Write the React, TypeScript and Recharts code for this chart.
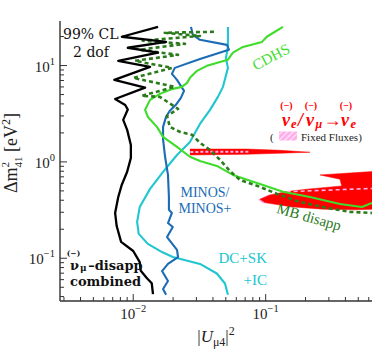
import React from 'react';
import { ScatterChart, Scatter, XAxis, YAxis } from 'recharts';

type Pt = [number, number];

// [ |U_mu4|^2 , dm41^2 (eV^2) ]
const combined: Pt[] = [
  [0.0154, 25.2], [0.0082, 19.9], [0.0177, 17.6], [0.0091, 15.3], [0.0154, 13.6],
  [0.0077, 11.2], [0.0134, 9.7], [0.0072, 7.1], [0.0123, 5.9], [0.0073, 4.5],
  [0.0087, 3.9], [0.0091, 3.5], [0.0084, 2.73], [0.009, 2.15], [0.0096, 1.5],
  [0.0096, 1.1], [0.009, 0.79], [0.0082, 0.58], [0.0077, 0.43], [0.0073, 0.295],
  [0.0075, 0.216], [0.0081, 0.148], [0.01, 0.119], [0.0112, 0.091], [0.0114, 0.074],
  [0.0127, 0.062], [0.0138, 0.055], [0.0141, 0.0425],
];

const minos: Pt[] = [
  [0.0273, 25.2], [0.0282, 20.8], [0.0319, 18.5], [0.051, 16.4], [0.0528, 14.6],
  [0.0319, 11.7], [0.0206, 9.46], [0.0196, 8.2], [0.0214, 7.1], [0.0242, 5.46],
  [0.0229, 4.62], [0.021, 3.91], [0.0189, 3.39], [0.0177, 2.93], [0.0168, 2.31],
  [0.0168, 1.71], [0.0174, 1.13], [0.0183, 0.733], [0.0186, 0.433], [0.0186, 0.318],
  [0.0196, 0.295], [0.0183, 0.232], [0.0199, 0.211], [0.018, 0.166], [0.0214, 0.122],
  [0.0218, 0.103], [0.0183, 0.0873], [0.0165, 0.0736], [0.0183, 0.058], [0.0168, 0.0479],
  [0.0177, 0.0417],
];

const dcskic: Pt[] = [
  [0.0519, 25.2], [0.0519, 15.6], [0.0501, 12.0], [0.0519, 9.46], [0.0476, 6.01],
  [0.0436, 4.73], [0.038, 3.47], [0.0319, 2.48], [0.0268, 1.61], [0.0214, 1.18],
  [0.0168, 0.787], [0.0134, 0.525], [0.0112, 0.341], [0.0107, 0.238], [0.011, 0.179],
  [0.0129, 0.141], [0.0165, 0.116], [0.0199, 0.103], [0.0319, 0.0873], [0.0428, 0.0695],
  [0.0493, 0.0547], [0.0519, 0.0417],
];

const cdhs: Pt[] = [
  [0.135, 25.2], [0.102, 19.9], [0.0938, 17.6], [0.0674, 15.6], [0.0566, 13.6],
  [0.0519, 11.5], [0.036, 9.93], [0.0303, 8.81], [0.0268, 7.45], [0.0255, 6.61],
  [0.0233, 6.01], [0.0199, 5.73], [0.0159, 5.08], [0.0134, 4.4], [0.0123, 3.47],
  [0.0129, 2.93], [0.0151, 2.31], [0.0168, 1.82], [0.0214, 1.43], [0.0268, 1.13],
  [0.0319, 1.02], [0.0428, 0.909], [0.0566, 0.733], [0.0906, 0.591], [0.135, 0.489],
  [0.216, 0.433], [0.364, 0.366], [0.533, 0.341], [0.635, 0.375],
];

const mbDisapp: Pt[] = [
  [0.0407, 22.4], [0.0173, 21.9], [0.0319, 20.3], [0.0118, 18.1], [0.0246, 16.8],
  [0.0112, 14.6], [0.0218, 12.9], [0.0103, 11.2], [0.0196, 9.46], [0.01, 7.45],
  [0.0206, 6.01], [0.0116, 4.85], [0.0159, 4.73], [0.0218, 3.55], [0.018, 3.0],
  [0.0189, 2.31], [0.0225, 2.05], [0.0278, 1.91], [0.0319, 1.58], [0.038, 1.33],
  [0.0452, 1.05], [0.0537, 0.805], [0.064, 0.65], [0.0906, 0.55], [0.122, 0.465],
  [0.18, 0.385], [0.29, 0.333], [0.433, 0.303], [0.635, 0.295],
];

// nu_e / nu_mu -> nu_e appearance regions
const appSpike: Pt[] = [
  [0.0268, 1.36], [0.072, 1.36], [0.128, 1.32], [0.216, 1.26],
  [0.128, 1.23], [0.072, 1.2], [0.0268, 1.18],
];
const appMain: Pt[] = [
  [0.635, 0.793], [0.257, 0.733], [0.364, 0.661], [0.375, 0.563], [0.204, 0.521],
  [0.144, 0.492], [0.108, 0.454], [0.0906, 0.41], [0.0988, 0.378], [0.153, 0.343],
  [0.272, 0.323], [0.486, 0.318], [0.635, 0.323],
];
// fixed fluxes
const fixedSpike: Pt[] = [[0.027, 1.27], [0.075, 1.275]];
const fixedMain: Pt[] = [[0.144, 0.49], [0.3, 0.51], [0.635, 0.53]];
const fixedTip: Pt[] = [
  [0.0875, 0.405], [0.105, 0.458], [0.13, 0.445], [0.115, 0.37], [0.095, 0.372],
];

const xTicks = [
  0.003, 0.004, 0.005, 0.006, 0.007, 0.008, 0.009,
  0.01, 0.02, 0.03, 0.04, 0.05, 0.06, 0.07, 0.08, 0.09,
  0.1, 0.2, 0.3, 0.4, 0.5, 0.6,
];
const yTicks = [
  0.04, 0.05, 0.06, 0.07, 0.08, 0.09,
  0.1, 0.2, 0.3, 0.4, 0.5, 0.6, 0.7, 0.8, 0.9,
  1, 2, 3, 4, 5, 6, 7, 8, 9, 10, 20,
];

const X_DOMAIN = [0.0028, 0.635];
const Y_DOMAIN = [0.036, 29];

const SERIF = '"Liberation Serif", "Times New Roman", serif';
const DJV = '"DejaVu Serif", serif';
const FRAME = '#333';
const C = {
  black: '#000000',
  blue: '#1b6cb5',
  cyan: '#20c6d0',
  green: '#3fdc2c',
  dark: '#2b7a1c',
  red: '#ff0000',
  pink: '#ffb0ea',
};

const toPts = (a: Pt[]) => a.map(([x, y]) => ({ x, y }));
const noShape = () => <g />;

const isMajor = (v: number) => Math.abs(Math.log10(v) - Math.round(Math.log10(v))) < 1e-6;
const expStr = (v: number) => {
  const e = Math.round(Math.log10(v));
  return e < 0 ? '\u2212' + Math.abs(e) : String(e);
};

const BottomTick = (props: any) => {
  const { x, y, payload } = props;
  const major = isMajor(payload.value);
  return (
    <g>
      <line x1={x} x2={x} y1={y} y2={y - (major ? 7 : 4)} stroke={FRAME} strokeWidth={1} />
      {major && (
        <text x={x} y={y + 18} textAnchor="middle" fontFamily={SERIF} fontSize={15} fill="#222">
          10<tspan dy={-7} fontSize={10.5}>{expStr(payload.value)}</tspan>
        </text>
      )}
    </g>
  );
};

const TopTick = (props: any) => {
  const { x, y, payload } = props;
  const major = isMajor(payload.value);
  return <line x1={x} x2={x} y1={y} y2={y + (major ? 7 : 4)} stroke={FRAME} strokeWidth={1} />;
};

const LeftTick = (props: any) => {
  const { x, y, payload } = props;
  const major = isMajor(payload.value);
  const e = expStr(payload.value);
  return (
    <g>
      <line x1={x} x2={x + (major ? 7 : 4)} y1={y} y2={y} stroke={FRAME} strokeWidth={1} />
      {major && (
        <text x={x - 5} y={y + 6} textAnchor="end" fontFamily={SERIF} fontSize={15} fill="#222">
          10<tspan dy={-7} fontSize={10.5}>{e}</tspan>
        </text>
      )}
    </g>
  );
};

const RightTick = (props: any) => {
  const { x, y, payload } = props;
  const major = isMajor(payload.value);
  return <line x1={x} x2={x - (major ? 7 : 4)} y1={y} y2={y} stroke={FRAME} strokeWidth={1} />;
};

const curve = (stroke: string, width = 2.1, dash?: string) => ({
  stroke,
  strokeWidth: width,
  strokeDasharray: dash,
  fill: 'none',
  strokeLinejoin: 'round' as const,
});

const Annotations = () => (
  <svg
    width={374}
    height={350}
    style={{ position: 'absolute', left: 0, top: 0, pointerEvents: 'none' }}
  >
    <defs>
      <pattern id="hatch" width="4" height="4" patternUnits="userSpaceOnUse" patternTransform="rotate(45)">
        <rect width="4" height="4" fill={C.pink} />
        <line x1="0" y1="0" x2="0" y2="4" stroke="#fff" strokeWidth="1.5" />
      </pattern>
    </defs>

    {/* axis titles */}
    <text transform="translate(17,153) rotate(-90)" textAnchor="middle" fontFamily={SERIF} fontSize={18} fill="#222">
      Δm<tspan dy={-8} fontSize={11}>2</tspan>
      <tspan dx={-5.5} dy={13} fontSize={11}>41</tspan>
      <tspan dy={-5}> [eV</tspan>
      <tspan dy={-7} fontSize={12}>2</tspan>
      <tspan dy={7}>]</tspan>
    </text>
    <text x={216} y={342} textAnchor="middle" fontFamily={SERIF} fontSize={17} fill="#222">
      |<tspan fontStyle="italic">U</tspan>
      <tspan dy={4} fontSize={12}>μ4</tspan>
      <tspan dy={-4}>|</tspan>
      <tspan dy={-7} fontSize={12}>2</tspan>
    </text>

    <text fontFamily={DJV} fontSize={14} fill="#111">
      <tspan x={63} y={38.5}>99% CL</tspan>
      <tspan x={91} y={57} textAnchor="middle">2 dof</tspan>
    </text>

    <text transform="translate(271,57) rotate(-28)" y={5} textAnchor="middle" fontFamily={SERIF} fontSize={15} fill={C.green}>
      CDHS
    </text>
    <text textAnchor="middle" fontFamily={SERIF} fontSize={14} fill={C.blue}>
      <tspan x={205} y={197}>MINOS/</tspan>
      <tspan x={205} y={212.6}>MINOS+</tspan>
    </text>
    <text transform="translate(309,217) rotate(16)" y={5} textAnchor="middle" fontFamily={SERIF} fontSize={15} fill={C.dark}>
      MB disapp
    </text>
    <text textAnchor="end" fontFamily={SERIF} fontSize={15} fill={C.cyan}>
      <tspan x={267} y={263}>DC+SK</tspan>
      <tspan x={267} y={285}>+IC</tspan>
    </text>

    <text fontFamily={DJV} fontWeight="bold" fontSize={13} fill="#111">
      <tspan x={73.5} y={255.5} fontSize={7.5} textAnchor="middle">(−)</tspan>
      <tspan x={70} y={270}>ν</tspan>
      <tspan dx={1} dy={1.2} fontSize={9}>μ</tspan>
      <tspan dx={1.5} dy={-1.2}>–disapp</tspan>
      <tspan x={70} y={285.5}>combined</tspan>
    </text>

    <text fill={C.red} fontFamily={SERIF} fontWeight="bold" fontSize={18}>
      <tspan x={286.5} y={108.5} textAnchor="middle" fontSize={10}>(−)</tspan>
      <tspan x={311} y={108.5} textAnchor="middle" fontSize={10}>(−)</tspan>
      <tspan x={346} y={108.5} textAnchor="middle" fontSize={10}>(−)</tspan>
      <tspan x={282} y={126} fontStyle="italic">ν</tspan>
      <tspan dx={1} dy={1.5} fontSize={12.5} fontStyle="italic">e</tspan>
      <tspan x={298} dy={-1.5} fontStyle="italic">/</tspan>
      <tspan x={306} fontStyle="italic">ν</tspan>
      <tspan dx={1.5} dy={1.5} fontSize={12} fontStyle="italic">μ</tspan>
      <tspan x={323.5} dy={-1.5}>→</tspan>
      <tspan x={341} fontStyle="italic">ν</tspan>
      <tspan dx={1.5} dy={1.5} fontSize={12.5} fontStyle="italic">e</tspan>
    </text>
    <text x={270} y={140.5} fontFamily={SERIF} fontSize={11} fill="#222">
      (<tspan x={301}>Fixed Fluxes)</tspan>
    </text>
    <rect x={279} y={131.5} width={18} height={9} fill="url(#hatch)" />
  </svg>
);

const App: React.FC = () => {
  return (
    <div style={{ position: 'absolute', left: 0, top: 0, width: 374, height: 350, background: '#fff' }}>
      <ScatterChart width={374} height={350} margin={{ top: 21, right: 2, bottom: 0, left: 0 }}>
        <XAxis
          type="number"
          dataKey="x"
          scale="log"
          domain={X_DOMAIN}
          allowDataOverflow
          ticks={xTicks}
          interval={0}
          tick={BottomTick}
          tickSize={0}
          tickMargin={0}
          tickLine={false}
          height={49}
          axisLine={{ stroke: FRAME, strokeWidth: 1.4 }}
        />
        <XAxis
          xAxisId="t"
          orientation="top"
          type="number"
          dataKey="x"
          scale="log"
          domain={X_DOMAIN}
          allowDataOverflow
          ticks={xTicks}
          interval={0}
          tick={TopTick}
          tickSize={0}
          tickMargin={0}
          tickLine={false}
          height={0}
          axisLine={{ stroke: FRAME, strokeWidth: 1.4 }}
        />
        <YAxis
          type="number"
          dataKey="y"
          scale="log"
          domain={Y_DOMAIN}
          allowDataOverflow
          ticks={yTicks}
          interval={0}
          tick={LeftTick}
          tickSize={0}
          tickMargin={0}
          tickLine={false}
          width={60}
          axisLine={{ stroke: FRAME, strokeWidth: 1.4 }}
        />
        <YAxis
          yAxisId="r"
          orientation="right"
          type="number"
          dataKey="y"
          scale="log"
          domain={Y_DOMAIN}
          allowDataOverflow
          ticks={yTicks}
          interval={0}
          tick={RightTick}
          tickSize={0}
          tickMargin={0}
          tickLine={false}
          width={0}
          axisLine={{ stroke: FRAME, strokeWidth: 1.4 }}
        />

        <Scatter xAxisId="t" yAxisId="r" data={toPts(combined)} shape={noShape} isAnimationActive={false} />

        <Scatter data={toPts(fixedTip)} shape={noShape} line={{ stroke: 'none', fill: C.pink }} isAnimationActive={false} />
        <Scatter data={toPts(appSpike)} shape={noShape} line={{ stroke: C.red, strokeWidth: 0.5, fill: C.red }} isAnimationActive={false} />
        <Scatter data={toPts(appMain)} shape={noShape} line={{ stroke: C.red, strokeWidth: 0.5, fill: C.red }} isAnimationActive={false} />
        <Scatter data={toPts(fixedSpike)} shape={noShape} line={curve(C.pink, 2, '3 2')} isAnimationActive={false} />
        <Scatter data={toPts(fixedMain)} shape={noShape} line={curve(C.pink, 1.6, '4 3')} isAnimationActive={false} />

        <Scatter data={toPts(dcskic)} shape={noShape} line={curve(C.cyan)} isAnimationActive={false} />
        <Scatter data={toPts(minos)} shape={noShape} line={curve(C.blue)} isAnimationActive={false} />
        <Scatter data={toPts(cdhs)} shape={noShape} line={curve(C.green)} isAnimationActive={false} />
        <Scatter data={toPts(mbDisapp)} shape={noShape} line={curve(C.dark, 2.6, '4 3')} isAnimationActive={false} />
        <Scatter data={toPts(combined)} shape={noShape} line={curve(C.black, 2.3)} isAnimationActive={false} />
      </ScatterChart>
      <Annotations />
    </div>
  );
};

export default App;
